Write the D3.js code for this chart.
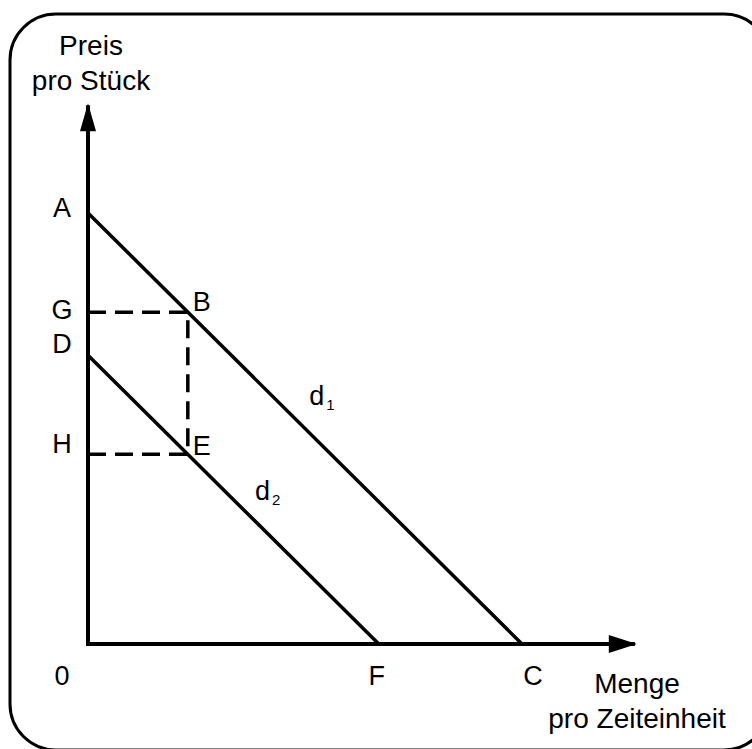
<!DOCTYPE html>
<html>
<head>
<meta charset="utf-8">
<script src="https://cdn.jsdelivr.net/npm/d3@7"></script>
<style>
  body { margin: 0; background: #fff; }
  text { font-family: "Liberation Sans", Arial, sans-serif; fill: #000; }
</style>
</head>
<body>
<div id="d3container"></div>
<script>
// demand curves (quantity q, price p)
var d1 = [{q: 0, p: 10}, {q: 10, p: 0}];
var d2 = [{q: 0, p: 6.7}, {q: 6.7, p: 0}];
var qB = 2.3;     // quantity at B / E
var pG = 7.7;     // price G (point B)
var pH = 4.4;     // price H (point E)
var axisMax = {q: 12.6, p: 12.5};

// point labels on the axes and curves
var pointLabels = [
    {t: 'A', q: 0, p: 10, dx: -26, dy: 4},
    {t: 'G', q: 0, p: pG, dx: -26, dy: 7},
    {t: 'D', q: 0, p: 6.7, dx: -26, dy: -2},
    {t: 'H', q: 0, p: pH, dx: -26, dy: -1},
    {t: 'B', q: qB, p: pG, dx: 14, dy: -1},
    {t: 'E', q: qB, p: pH, dx: 14, dy: 1},
    {t: '0', q: 0, p: 0, dx: -26, dy: 41},
    {t: 'F', q: 6.7, p: 0, dx: -2, dy: 41},
    {t: 'C', q: 10, p: 0, dx: 11, dy: 41}
];
var curveLabels = [
    {t: 'd', sub: '1', q: 5.1, p: 5.55},
    {t: 'd', sub: '2', q: 3.85, p: 3.34}
];

var width = 752, height = 749;

var svg = d3.select('#d3container').append('svg')
    .attr('width', width)
    .attr('height', height);

var x = d3.scaleLinear().domain([0, 10]).range([88, 522]);
var y = d3.scaleLinear().domain([0, 10]).range([644, 213]);

// frame with rounded corners, partly cut off on the right/bottom
svg.append('rect')
    .attr('x', 10).attr('y', 14)
    .attr('width', 760).attr('height', 736)
    .attr('rx', 46).attr('ry', 46)
    .attr('fill', 'none')
    .attr('stroke', '#000')
    .attr('stroke-width', 3);

var line = d3.line()
    .x(function (d) { return x(d.q); })
    .y(function (d) { return y(d.p); });

// axes
svg.append('path')
    .attr('d', line([{q: 0, p: axisMax.p}, {q: 0, p: 0}, {q: axisMax.q, p: 0}]))
    .attr('fill', 'none')
    .attr('stroke', '#000')
    .attr('stroke-width', 4);

// arrow heads
var tipY = [x(0), y(axisMax.p)];
svg.append('path')
    .attr('d', 'M' + tipY[0] + ',' + (tipY[1] - 2) + 'L' + (tipY[0] - 8) + ',' + (tipY[1] + 26) +
        'L' + (tipY[0] + 8) + ',' + (tipY[1] + 26) + 'Z')
    .attr('fill', '#000');
var tipX = [x(axisMax.q), y(0)];
svg.append('path')
    .attr('d', 'M' + (tipX[0] + 2) + ',' + tipX[1] + 'L' + (tipX[0] - 26) + ',' + (tipX[1] - 9) +
        'L' + (tipX[0] - 26) + ',' + (tipX[1] + 9) + 'Z')
    .attr('fill', '#000');

// dashed guides
svg.append('path')
    .attr('d', line([{q: 0, p: pG}, {q: qB, p: pG}, {q: qB, p: pH}]))
    .attr('fill', 'none')
    .attr('stroke', '#000')
    .attr('stroke-width', 3.5)
    .attr('stroke-dasharray', '18,9');
svg.append('path')
    .attr('d', line([{q: 0, p: pH}, {q: qB, p: pH}]))
    .attr('fill', 'none')
    .attr('stroke', '#000')
    .attr('stroke-width', 3.5)
    .attr('stroke-dasharray', '18,9');

// demand lines
[d1, d2].forEach(function (d) {
    svg.append('path')
        .attr('d', line(d))
        .attr('fill', 'none')
        .attr('stroke', '#000')
        .attr('stroke-width', 3.5);
});

svg.selectAll('text.pt')
    .data(pointLabels)
    .enter()
    .append('text')
    .attr('class', 'pt')
    .attr('x', function (d) { return x(d.q) + d.dx; })
    .attr('y', function (d) { return y(d.p) + d.dy; })
    .attr('text-anchor', 'middle')
    .attr('font-size', 27)
    .text(function (d) { return d.t; });

curveLabels.forEach(function (c) {
    var t = svg.append('text')
        .attr('x', x(c.q))
        .attr('y', y(c.p))
        .attr('font-size', 27);
    t.append('tspan').text(c.t);
    t.append('tspan')
        .attr('font-size', 15)
        .attr('dy', 5)
        .attr('dx', 2)
        .text(c.sub);
});

// axis titles
var titles = [
    {lines: ['Preis', 'pro Stück'], x: 91, y: 55},
    {lines: ['Menge', 'pro Zeiteinheit'], x: 637, y: 693}
];
titles.forEach(function (t) {
    t.lines.forEach(function (s, i) {
        svg.append('text')
            .attr('x', t.x)
            .attr('y', t.y + i * 35)
            .attr('text-anchor', 'middle')
            .attr('font-size', 28)
            .text(s);
    });
});
</script>
</body>
</html>
